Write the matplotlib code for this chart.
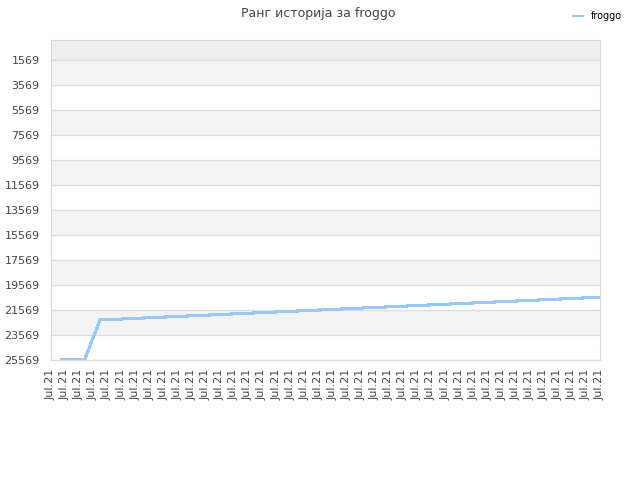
import matplotlib
matplotlib.use('Agg')
import matplotlib.pyplot as plt
import numpy as np

# rank history for froggo (lower rank number = better, axis inverted)
day_pos = [0.8, 2.4, 3.5, 4, 5, 6, 7, 8, 9, 10, 11, 12, 13, 14, 15, 16, 17, 18, 19,
           20, 21, 22, 23, 24, 25, 26, 27, 28, 29, 30, 31, 32, 33, 34, 35, 36, 37, 38, 38.9]
rank = [25569, 25569, 22369, 22343, 22292, 22241, 22189, 22138, 22086, 22035, 21984,
        21932, 21881, 21830, 21778, 21727, 21676, 21624, 21573, 21521, 21470, 21418,
        21367, 21316, 21264, 21213, 21161, 21110, 21059, 21007, 20956, 20904, 20853,
        20802, 20750, 20699, 20648, 20596, 20553]
tick_labels = ['Jul.21'] * 40
y_ticks = list(range(1569, 25570, 2000))

fig = plt.figure(figsize=(6.4, 4.8), dpi=100)
ax = fig.add_axes([50.7/640, 120/480, (600-50.7)/640, 320/480])

y_top = -31
y_bot = 25569
# background bands
ax.axhspan(y_top, 1569, color='#eeeeee', zorder=0, lw=0)
for k in range(len(y_ticks) - 1):
    c = '#f3f3f3' if k % 2 == 0 else '#ffffff'
    ax.axhspan(y_ticks[k], y_ticks[k+1], color=c, zorder=0, lw=0)
for t in y_ticks:
    ax.axhline(t, color='#dddddd', lw=1, zorder=1)

ax.plot(day_pos, rank, color='#99c8f5', lw=1.5, label='froggo', zorder=3, antialiased=False)

ax.set_xlim(0, 39)
ax.set_ylim(y_bot, y_top)
ax.set_yticks(y_ticks)
ax.set_yticklabels([str(t) for t in y_ticks])
ax.set_xticks(range(40))
ax.set_xticklabels(tick_labels, rotation=90)
ax.tick_params(axis='both', length=0, labelsize=8, colors='#444444', pad=8)
ax.tick_params(axis='x', pad=6)
for s in ax.spines.values():
    s.set_color('#d8d8d8')

fig.suptitle('Ранг историја за froggo', x=0.497, y=0.985, fontsize=9, color='#444444')
fig.legend(loc='upper right', bbox_to_anchor=(0.985, 0.995), frameon=False,
           fontsize=7, handlelength=1.0, handletextpad=0.8)

fig.savefig('out.png', dpi=100)
